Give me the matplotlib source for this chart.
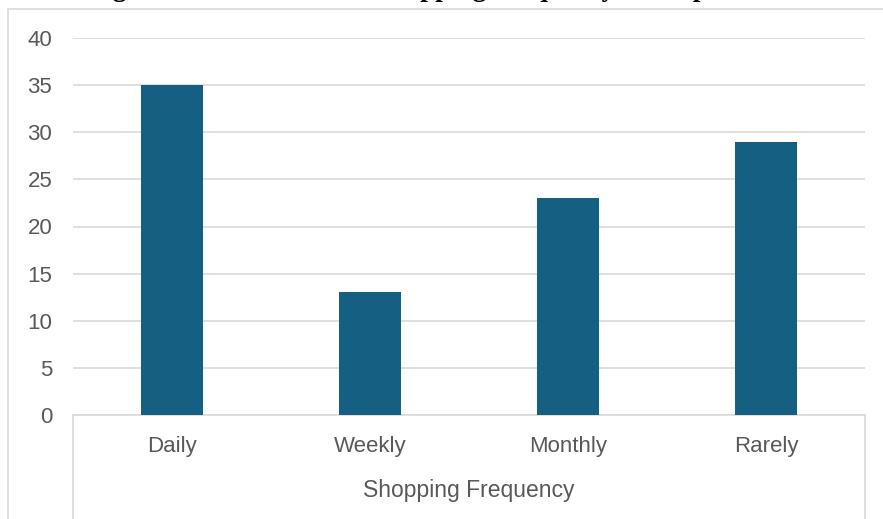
import numpy as np
import matplotlib
matplotlib.use("Agg")
import matplotlib.pyplot as plt
from matplotlib.patches import Rectangle
from matplotlib.lines import Line2D
from matplotlib.font_manager import FontProperties

# dados do gráfico
categorias = ["Daily", "Weekly", "Monthly", "Rarely"]
valores = [35, 13, 23, 29]
titulo = "Figure 1: Distribution of Shopping Frequency of Respondents"
rotulo_x = "Shopping Frequency"
yticks = [0, 5, 10, 15, 20, 25, 30, 35, 40]

W, H = 883, 519
cor_barra = "#156082"
cor_grade = "#D9D9D9"
cor_texto = "#595959"
tam = 16

plt.rcParams["font.family"] = ["Liberation Sans", "DejaVu Sans"]

fig = plt.figure(figsize=(W / 100, H / 100), dpi=100)

# borda da área do gráfico (cortada à direita e embaixo)
fig.patches.append(Rectangle((8 / W, -0.05), 1.1, (H - 9) / H + 0.05,
                             transform=fig.transFigure, fill=False,
                             edgecolor=cor_grade, linewidth=1.2))

x0, x1 = 73 / W, 865 / W
y0, y1 = (H - 415) / H, (H - 38) / H
ax = fig.add_axes([x0, y0, x1 - x0, y1 - y0])

x = np.arange(len(categorias))
ax.bar(x, valores, width=0.31, color=cor_barra, zorder=3)

ax.set_xlim(-0.5, len(categorias) - 0.5)
ax.set_ylim(0, 40)
ax.set_yticks(yticks)
ax.set_xticks(x)
ax.set_xticklabels(categorias)
ax.yaxis.grid(True, color=cor_grade, linewidth=1.2, zorder=0)
ax.tick_params(axis="y", length=0, pad=15, labelsize=tam, labelcolor=cor_texto)
ax.tick_params(axis="x", length=0, pad=15, labelsize=tam, labelcolor=cor_texto)
for lado in ["top", "right", "left"]:
    ax.spines[lado].set_visible(False)
ax.spines["bottom"].set_color(cor_grade)
ax.spines["bottom"].set_linewidth(1.2)

# caixa do eixo de categorias
for xx in (x0, x1):
    fig.lines.append(Line2D([xx, xx], [-0.05, y0], transform=fig.transFigure,
                            color=cor_grade, linewidth=1.2))

fig.text((x0 + x1) / 2, (H - 491) / H, rotulo_x, ha="center", va="center",
         fontsize=tam + 0.5, color=cor_texto)

# título cortado no topo: tamanho ajustado para que o "g" de Figure fique
# em x~113 e o "p" de Respondents em x~693, como na imagem
r = fig.canvas.get_renderer()
fp = FontProperties(family="Liberation Serif", weight="bold", size=20)
wa = r.get_text_width_height_descent("Fi", fp, ismath=False)[0]
wb = r.get_text_width_height_descent(titulo[:titulo.index("Res") + 3], fp, ismath=False)[0]
fs = 20 * (693 - 113) / (wb - wa)
xs = 113 - wa * fs / 20
fig.text(xs / W, 1 + 3.5 / H, titulo, ha="left", va="baseline",
         fontsize=fs, fontweight="bold", family="Liberation Serif", color="black")

fig.savefig("out.png", dpi=100)
